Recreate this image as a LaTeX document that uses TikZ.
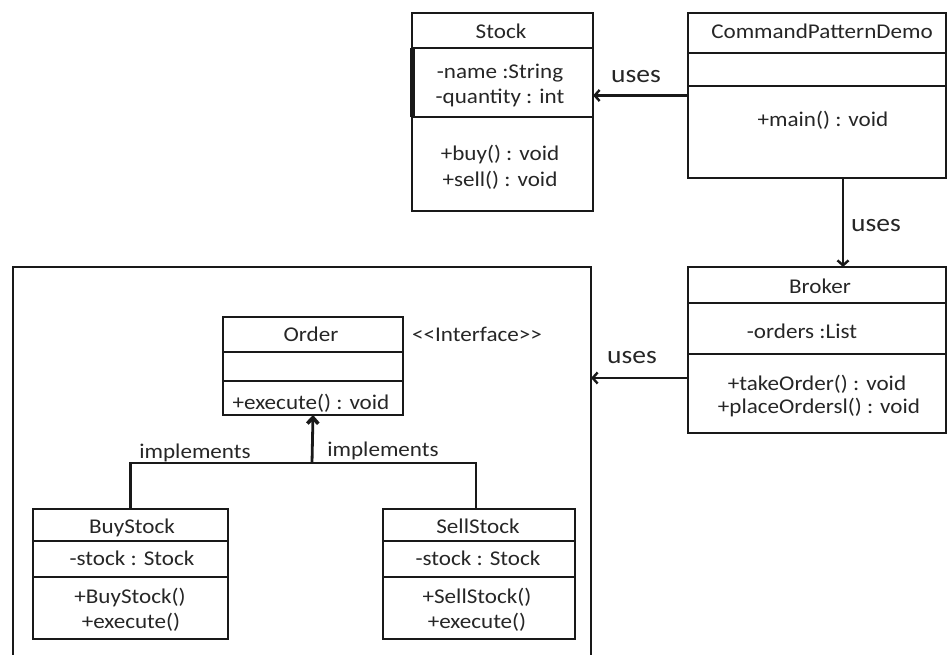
\documentclass[tikz,border=0pt]{standalone}
\usepackage{fontspec}
\setmainfont{Carlito}[Ligatures=TeXOff, FakeStretch=1.1]
\usetikzlibrary{arrows.meta}
\begin{document}
\begin{tikzpicture}[x=1pt,y=-1pt,
  ln/.style={line width=2.8pt, draw=black!90},
  classbox/.style={ln, rectangle, inner sep=0pt, outer sep=0pt, anchor=north west},
  lbl/.style={inner sep=0pt, anchor=mid, yshift=-4pt, font=\fontsize{21}{24}\selectfont, text=black!85},
  biglbl/.style={lbl, font=\fontsize{25}{28}\selectfont},
  uses/.style={ln, -{Straight Barb[length=5pt,width=11pt,line width=2.4pt]}},
  impl/.style={ln, -{Straight Barb[length=6pt,width=11pt,line width=3.6pt]}},
]
\useasboundingbox (0,0) rectangle (948,655);
\begin{scope}
\clip (0,0) rectangle (948,655);

% ---------- class boxes ----------
\node[classbox, minimum width=181pt, minimum height=198pt] (stock) at (412,13) {};
\draw[ln] (stock.west |- 0,48) -- (stock.east |- 0,48);
\draw[ln] (stock.west |- 0,117) -- (stock.east |- 0,117);
\draw[line width=5pt, black!90] (stock.west |- 0,48) -- (stock.west |- 0,117);

\node[classbox, minimum width=258pt, minimum height=165pt] (demo) at (688,13) {};
\draw[ln] (demo.west |- 0,53) -- (demo.east |- 0,53);
\draw[ln] (demo.west |- 0,86) -- (demo.east |- 0,86);

\node[classbox, minimum width=258pt, minimum height=166pt] (broker) at (688,267) {};
\draw[ln] (broker.west |- 0,303) -- (broker.east |- 0,303);
\draw[ln] (broker.west |- 0,354) -- (broker.east |- 0,354);

% package frame around the order hierarchy
\node[classbox, minimum width=578pt, minimum height=433pt] (group) at (13,267) {};

\node[classbox, minimum width=180pt, minimum height=98pt] (order) at (223,317) {};
\draw[ln] (order.west |- 0,352) -- (order.east |- 0,352);
\draw[ln] (order.west |- 0,381) -- (order.east |- 0,381);

\node[classbox, minimum width=195pt, minimum height=130pt] (buy) at (33,509) {};
\draw[ln] (buy.west |- 0,541) -- (buy.east |- 0,541);
\draw[ln] (buy.west |- 0,577) -- (buy.east |- 0,577);

\node[classbox, minimum width=192pt, minimum height=130pt] (sell) at (383,509) {};
\draw[ln] (sell.west |- 0,541) -- (sell.east |- 0,541);
\draw[ln] (sell.west |- 0,577) -- (sell.east |- 0,577);

% ---------- class texts ----------
\node[lbl] (stockT)  at (501,32)  {Stock};
\node[lbl] (stockA1) at (500,72)  {-name :String};
\node[lbl] (stockA2) at (500,97)  {-quantity : int};
\node[lbl] (stockM1) at (500,154) {+buy() : void};
\node[lbl] (stockM2) at (500,180) {+sell() : void};

\node[lbl] (demoT)  at (822,32)  {CommandPatternDemo};
\node[lbl] (demoM1) at (823,120) {+main() : void};

\node[lbl] (brokerT)  at (820,287) {Broker};
\node[lbl] (brokerA1) at (802,332) {-orders :List};
\node[lbl] (brokerM1) at (817,384) {+takeOrder() : void};
\node[lbl] (brokerM2) at (819,407) {+placeOrdersl() : void};

\node[lbl] (orderT)  at (311,335) {Order};
\node[lbl] (orderM1) at (311,403) {+execute() : void};
\node[lbl] (iface)   at (477,335) {<<Interface>>};

\node[lbl] (buyT)  at (132,527) {BuyStock};
\node[lbl] (buyA1) at (132,559) {-stock : Stock};
\node[lbl] (buyM1) at (130,597) {+BuyStock()};
\node[lbl] (buyM2) at (131,622) {+execute()};

\node[lbl] (sellT)  at (478,527) {SellStock};
\node[lbl] (sellA1) at (478,559) {-stock : Stock};
\node[lbl] (sellM1) at (477,597) {+SellStock()};
\node[lbl] (sellM2) at (477,622) {+execute()};

% ---------- associations ----------
\draw[uses] (demo.west) -- (demo.west -| stock.east);
\node[biglbl] (uses1) at (636,76) {uses};

\coordinate (dsouth) at ([xshift=26pt]demo.south);
\draw[uses] (dsouth) -- (dsouth |- broker.north);
\node[biglbl] (uses2) at (876,225) {uses};

\coordinate (bwest) at (broker.west |- 0,378);
\draw[uses] (bwest) -- (bwest -| group.east);
\node[biglbl] (uses3) at (632,357) {uses};

% ---------- realisation ----------
\coordinate (jn) at (312,463);
\draw[ln] (buy.north) |- (jn) -| ([xshift=-3pt]sell.north);
\draw[impl] (jn) -- (order.south);
\node[lbl] (impl1) at (195,452) {implements};
\node[lbl] (impl2) at (383,450) {implements};
\end{scope}
\end{tikzpicture}
\end{document}
